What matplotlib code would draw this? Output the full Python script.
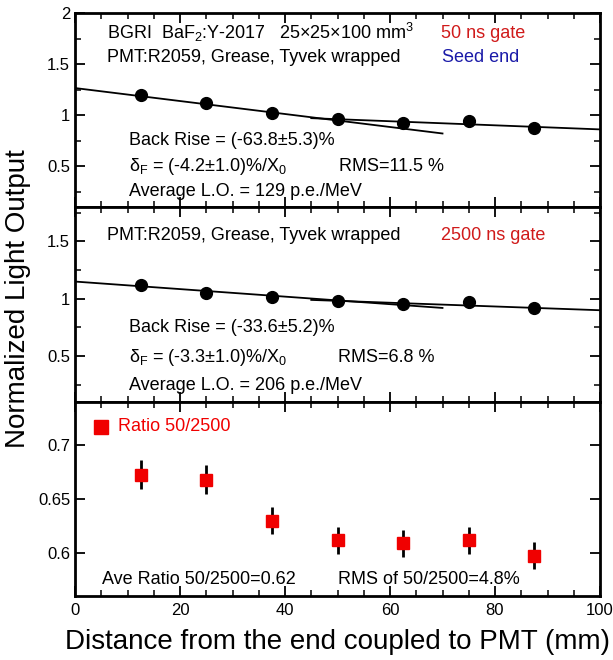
import numpy as np
import matplotlib
matplotlib.use("Agg")
import matplotlib.pyplot as plt
from matplotlib.ticker import MultipleLocator, FormatStrFormatter

plt.rcParams.update({
    "font.family": ["Liberation Sans", "DejaVu Sans"],
    "mathtext.default": "regular",
    "axes.linewidth": 2.0,
    "xtick.direction": "in",
    "ytick.direction": "in",
    "xtick.top": True,
    "ytick.right": True,
    "xtick.major.size": 7,
    "ytick.major.size": 7,
    "xtick.minor.size": 4,
    "ytick.minor.size": 4,
    "xtick.major.width": 1.3,
    "ytick.major.width": 1.3,
    "xtick.minor.width": 1.1,
    "ytick.minor.width": 1.1,
    "xtick.labelsize": 12,
    "ytick.labelsize": 12,
})

# --- data ----------------------------------------------------------------
dist = [12.5, 25, 37.5, 50, 62.5, 75, 87.5]

lo_50ns = [1.196, 1.12, 1.02, 0.96, 0.92, 0.94, 0.87]
lo_2500ns = [1.12, 1.047, 1.012, 0.983, 0.954, 0.969, 0.917]

ratio = [0.6725, 0.668, 0.630, 0.6115, 0.609, 0.6115, 0.5975]
ratio_err = [0.0134, 0.0137, 0.0128, 0.0125, 0.0125, 0.0125, 0.0123]

# fit line end points (front part and back part)
fit_front_x = [0, 70]
fit_back_x = [45, 100]
fit_front_50 = [1.265, 0.82]
fit_back_50 = [0.97, 0.86]
fit_front_2500 = [1.15, 0.92]
fit_back_2500 = [0.99, 0.90]

RED = "#f00000"
TXT_RED = "#d01a1a"
TXT_BLUE = "#1a1aa8"

W, H = 613, 660
fig = plt.figure(figsize=(W / 100, H / 100), dpi=100)


def axes_px(top, bottom, left=75, right=600):
    return fig.add_axes([left / W, 1 - bottom / H, (right - left) / W, (bottom - top) / H])


ax1 = axes_px(13, 207)
ax2 = axes_px(207, 402)
ax3 = axes_px(402, 596)

for ax in (ax1, ax2, ax3):
    ax.set_xlim(0, 100)
    ax.xaxis.set_major_locator(MultipleLocator(20))
    ax.xaxis.set_minor_locator(MultipleLocator(5))
    ax.tick_params(which="both", top=True, right=True)

for ax in (ax1, ax2):
    ax.tick_params(axis="x", labelbottom=False)
    ax.yaxis.set_major_locator(MultipleLocator(0.5))
    ax.yaxis.set_minor_locator(MultipleLocator(0.25))
    ax.yaxis.set_major_formatter(FormatStrFormatter("%g"))

ax1.set_ylim(0.1, 2.0)
ax2.set_ylim(0.1, 1.8)
ax3.set_ylim(0.56, 0.74)
ax3.yaxis.set_major_locator(MultipleLocator(0.05))
ax3.yaxis.set_major_formatter(FormatStrFormatter("%g"))
ax3.xaxis.set_major_formatter(FormatStrFormatter("%d"))
ax3.tick_params(axis="x", pad=5)

# --- top panel: 50 ns gate -------------------------------------------------
ax1.plot(fit_front_x, fit_front_50, color="black", lw=1.3)
ax1.plot(fit_back_x, fit_back_50, color="black", lw=1.3)
ax1.plot(dist, lo_50ns, "o", color="black", ms=8.5, zorder=3)

fs = 13
ax1.text(6.1, 1.80, "BGRI  BaF$_2$:Y-2017", fontsize=fs, va="center")
ax1.text(38.9, 1.80, "25\u00d725\u00d7100 mm$^3$", fontsize=fs, va="center")
ax1.text(69.8, 1.80, "50 ns gate", fontsize=fs, va="center", color=TXT_RED)
ax1.text(6.1, 1.566, "PMT:R2059, Grease, Tyvek wrapped", fontsize=fs, va="center")
ax1.text(70.0, 1.566, "Seed end", fontsize=fs, va="center", color=TXT_BLUE)
ax1.text(10.2, 0.755, "Back Rise = (-63.8\u00b15.3)%", fontsize=fs, va="center")
ax1.text(10.2, 0.50, "\u03b4$_F$ = (-4.2\u00b11.0)%/X$_0$", fontsize=fs, va="center")
ax1.text(50.3, 0.50, "RMS=11.5 %", fontsize=fs, va="center")
ax1.text(10.2, 0.25, "Average L.O. = 129 p.e./MeV", fontsize=fs, va="center")

# --- middle panel: 2500 ns gate -------------------------------------------
ax2.plot(fit_front_x, fit_front_2500, color="black", lw=1.3)
ax2.plot(fit_back_x, fit_back_2500, color="black", lw=1.3)
ax2.plot(dist, lo_2500ns, "o", color="black", ms=8.5, zorder=3)

ax2.text(6.1, 1.55, "PMT:R2059, Grease, Tyvek wrapped", fontsize=fs, va="center")
ax2.text(69.8, 1.55, "2500 ns gate", fontsize=fs, va="center", color=TXT_RED)
ax2.text(10.2, 0.748, "Back Rise = (-33.6\u00b15.2)%", fontsize=fs, va="center")
ax2.text(10.2, 0.49, "\u03b4$_F$ = (-3.3\u00b11.0)%/X$_0$", fontsize=fs, va="center")
ax2.text(50.1, 0.49, "RMS=6.8 %", fontsize=fs, va="center")
ax2.text(10.2, 0.245, "Average L.O. = 206 p.e./MeV", fontsize=fs, va="center")

# --- bottom panel: ratio ---------------------------------------------------
ax3.errorbar(dist, ratio, yerr=ratio_err, fmt="s", color=RED, ms=8,
             ecolor="black", elinewidth=2, capsize=0, zorder=3)
ax3.plot([5], [0.717], "s", color=RED, ms=9.5)
ax3.text(8.1, 0.717, "Ratio 50/2500", fontsize=fs, va="center", color=RED)
ax3.text(5.1, 0.5756, "Ave Ratio 50/2500=0.62", fontsize=fs, va="center")
ax3.text(50.1, 0.5756, "RMS of 50/2500=4.8%", fontsize=fs, va="center")

ax3.set_xlabel("Distance from the end coupled to PMT (mm)", fontsize=20, labelpad=8)
fig.text(18 / W, 1 - 299 / H, "Normalized Light Output", fontsize=20,
         rotation=90, ha="center", va="center")

fig.savefig("out.png", dpi=100)
